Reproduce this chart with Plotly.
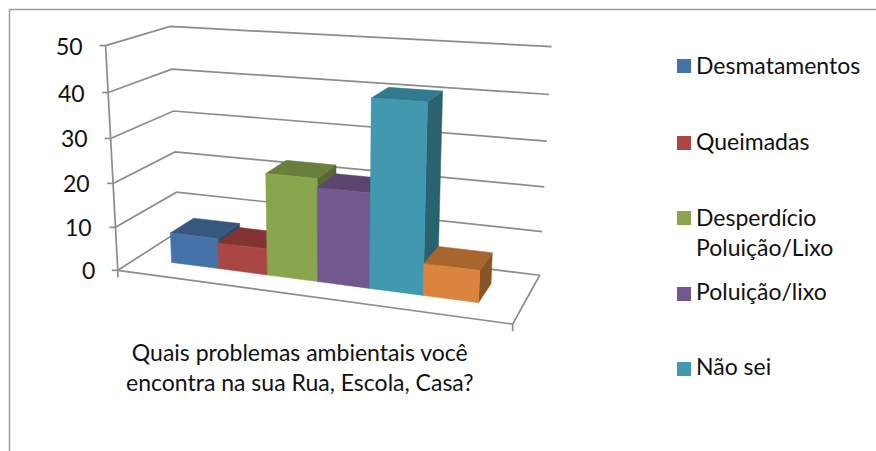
import numpy as np
import plotly.graph_objects as go

# Survey responses, one bar per answer
SERIES = ["Desmatamentos", "Queimadas", "Desperdício", "Poluição/lixo", "Não sei", "Outros"]
VALUES = [7, 6, 23, 21, 41, 7]
TICKS = [0, 10, 20, 30, 40, 50]
LEGEND_LABELS = ["Desmatamentos", "Queimadas", "Desperdício<br>Poluição/Lixo", "Poluição/lixo", "Não sei"]
LEGEND_Y = [66, 143, 218, 294, 369]
LEGEND_TEXT_Y = [65, 141, 232, 291, 366]
AXIS_TITLE = "Quais problemas ambientais você<br>encontra na sua Rua, Escola, Casa?"

FRONT = ["#4573A7", "#AA4643", "#89A54E", "#71588F", "#4198AF", "#DB843D"]
TOP = ["#36587F", "#833432", "#6A7F3C", "#5A4670", "#317A8D", "#A8652E"]
SIDE = ["#2E4A6B", "#6E2C2A", "#566833", "#49395C", "#2A6270", "#8B5424"]
GREY = "#8C8C8C"
INK = "#111111"
FONT = "Lato"
TEXT_SIZE = 23

# Box corners (x, value, depth) and where they land on the page; a camera
# matrix is fitted to them so the whole box shares one perspective.
BOX = np.array([[0, 0, 0], [0, 50, 0], [0, 0, 1], [0, 50, 1],
                [1, 0, 1], [1, 50, 1], [1, 0, 0]], float)
PAGE = np.array([[118, 271], [105.7, 45], [178, 231], [170, 27],
                 [540, 275.3], [551.7, 46.7], [512.3, 324]], float)


def fit_camera(box, page):
    rows, rhs = [], []
    for (x, v, z), (u, w) in zip(box, page):
        rows.append([x, v, z, 1, 0, 0, 0, 0, -u * x, -u * v, -u * z])
        rows.append([0, 0, 0, 0, x, v, z, 1, -w * x, -w * v, -w * z])
        rhs += [u, w]
    p, *_ = np.linalg.lstsq(np.array(rows), np.array(rhs), rcond=None)
    return np.append(p, 1).reshape(3, 4)


CAM = fit_camera(BOX, PAGE)


def project(x, v, z):
    u, w, s = CAM @ np.array([x, v, z, 1.0])
    return u / s, w / s


def add_line(fig, pts, color=GREY, width=1.7):
    xs, ys = zip(*pts)
    fig.add_trace(go.Scatter(x=xs, y=ys, mode="lines", hoverinfo="skip",
                             line=dict(color=color, width=width)))


def add_face(fig, pts, color):
    xs, ys = zip(*pts)
    fig.add_trace(go.Scatter(x=list(xs) + [xs[0]], y=list(ys) + [ys[0]], mode="lines",
                             fill="toself", fillcolor=color, hoverinfo="skip",
                             line=dict(color=color, width=0.5)))


fig = go.Figure()

# Chart frame: only the top and left edges fall inside the page
add_line(fig, [(9.5, 451), (9.5, 9.5), (876, 9.5)], "#9A9A9A", 1.5)

# Walls and floor
for t in TICKS:
    add_line(fig, [project(0, t, 0), project(0, t, 1), project(1, t, 1)])
add_line(fig, [project(0, 0, 0), project(1, 0, 0), project(1, 0, 1)])
add_line(fig, [project(0, 0, 0), project(0, 50, 0)])

# Tick marks and value labels along the front edge of the left wall
annotations = []
for t in TICKS:
    u, w = project(0, t, 0)
    add_line(fig, [(u - 6, w), (u, w)])
    annotations.append(dict(x=u - 21, y=w, text=str(t), xanchor="right", yanchor="middle",
                            showarrow=False, font=dict(size=TEXT_SIZE, color=INK, family=FONT)))
u, w = project(0, 0, 0)
add_line(fig, [(u, w), (u, w + 7)])
u, w = project(1, 0, 0)
add_line(fig, [(u, w), (u, w + 7)])

# Bars, left to right so each one covers its neighbour's hidden side
GAP = 0.1
BAR_W = 0.8 / len(VALUES)
Z0, Z1 = 0.3, 0.7
for i, v in enumerate(VALUES):
    x0, x1 = GAP + i * BAR_W, GAP + (i + 1) * BAR_W
    add_face(fig, [project(x1, 0, Z0), project(x1, 0, Z1), project(x1, v, Z1), project(x1, v, Z0)], SIDE[i])
    add_face(fig, [project(x0, v, Z0), project(x0, v, Z1), project(x1, v, Z1), project(x1, v, Z0)], TOP[i])
    add_face(fig, [project(x0, 0, Z0), project(x1, 0, Z0), project(x1, v, Z0), project(x0, v, Z0)], FRONT[i])

# Legend entries
fig.add_trace(go.Scatter(x=[684] * len(LEGEND_LABELS), y=LEGEND_Y, mode="markers", hoverinfo="skip",
                         marker=dict(symbol="square", size=14, color=FRONT[:len(LEGEND_LABELS)], line=dict(width=0))))
for label, y in zip(LEGEND_LABELS, LEGEND_TEXT_Y):
    annotations.append(dict(x=694, y=y, text=label, xanchor="left", yanchor="middle", align="left",
                            showarrow=False, font=dict(size=TEXT_SIZE, color=INK, family=FONT)))

annotations.append(dict(x=300, y=367, text=AXIS_TITLE, xanchor="center", yanchor="middle", align="center",
                        showarrow=False, font=dict(size=TEXT_SIZE, color=INK, family=FONT)))

fig.update_layout(
    width=876, height=451, margin=dict(l=0, r=0, t=0, b=0),
    paper_bgcolor="white", plot_bgcolor="white", showlegend=False,
    xaxis=dict(range=[0, 876], visible=False, fixedrange=True),
    yaxis=dict(range=[451, 0], visible=False, fixedrange=True),
    annotations=annotations,
)
fig.write_html("out.html", config=dict(displayModeBar=False))
